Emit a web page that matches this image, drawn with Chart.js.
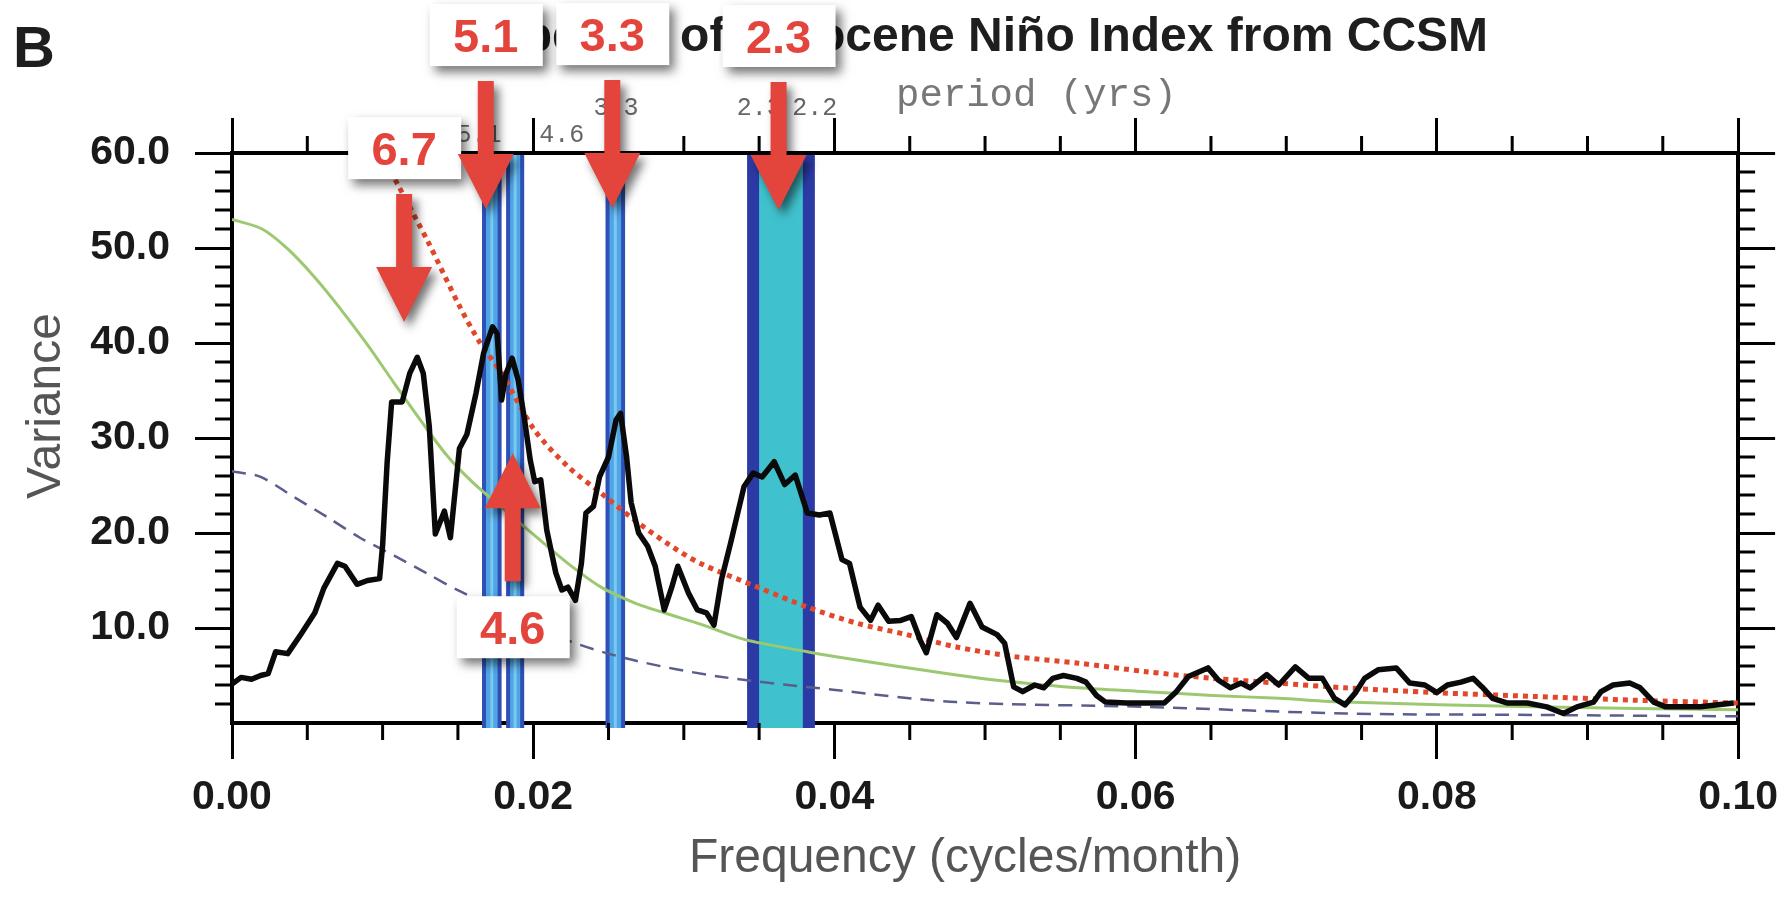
<!DOCTYPE html>
<html lang="en">
<head>
  <meta charset="UTF-8">
  <title>Spectra of Holocene Niño Index from CCSM</title>
  <style>
    body {
      margin: 0;
      background-color: #fff;
    }
    #wrap {
      width: 1792px;
      height: 897px;
    }
  </style>
</head>
<body>
  <div id="wrap"><canvas id="myChart" width="1792" height="897"></canvas></div>
  <script src="https://cdn.jsdelivr.net/npm/chart.js"></script>
  <script>
    // spectrum of the Nino index (black line), frequency in cycles/month
    var spectrumFreq = [0.0000, 0.0006, 0.0013, 0.0019, 0.0024, 0.0029, 0.0037, 0.0046, 0.0055, 0.0061,
      0.0070, 0.0075, 0.0083, 0.0090, 0.0098, 0.0100, 0.0103, 0.0106, 0.0113, 0.0118,
      0.0123, 0.0127, 0.0131, 0.0135, 0.0141, 0.0145, 0.0151, 0.0156, 0.0162, 0.0167,
      0.0173, 0.0176, 0.0179, 0.0182, 0.0186, 0.0190, 0.0194, 0.0198, 0.0201, 0.0205,
      0.0209, 0.0215, 0.0219, 0.0223, 0.0228, 0.0232, 0.0235, 0.0240, 0.0244, 0.0250,
      0.0255, 0.0258, 0.0262, 0.0265, 0.0270, 0.0276, 0.0281, 0.0287, 0.0292, 0.0296,
      0.0303, 0.0309, 0.0315, 0.0320, 0.0325, 0.0331, 0.0340, 0.0346, 0.0352, 0.0360,
      0.0367, 0.0374, 0.0382, 0.0390, 0.0397, 0.0405, 0.0410, 0.0417, 0.0424, 0.0429,
      0.0436, 0.0444, 0.0451, 0.0457, 0.0461, 0.0468, 0.0475, 0.0481, 0.0490, 0.0498,
      0.0508, 0.0513, 0.0519, 0.0525, 0.0533, 0.0539, 0.0545, 0.0552, 0.0561, 0.0567,
      0.0574, 0.0580, 0.0594, 0.0607, 0.0619, 0.0627, 0.0635, 0.0648, 0.0655, 0.0663,
      0.0670, 0.0676, 0.0687, 0.0695, 0.0706, 0.0715, 0.0724, 0.0732, 0.0739, 0.0746,
      0.0752, 0.0761, 0.0773, 0.0782, 0.0792, 0.0800, 0.0807, 0.0816, 0.0824, 0.0830,
      0.0837, 0.0847, 0.0860, 0.0873, 0.0884, 0.0893, 0.0904, 0.0909, 0.0917, 0.0928,
      0.0935, 0.0944, 0.0952, 0.0975, 0.0997];
    var spectrumVar = [4.1, 4.8, 4.6, 5.0, 5.2, 7.5, 7.3, 9.4, 11.6, 14.2,
      16.8, 16.5, 14.6, 15.0, 15.2, 18.7, 27.4, 33.8, 33.8, 36.8,
      38.5, 36.8, 31.2, 19.9, 22.3, 19.5, 28.9, 30.4, 34.7, 38.9,
      41.7, 41.0, 34.0, 36.8, 38.4, 36.1, 32.2, 27.7, 25.4, 25.6,
      20.3, 15.8, 14.0, 14.3, 12.9, 16.8, 22.1, 22.8, 25.9, 28.0,
      31.9, 32.6, 28.0, 23.2, 20.0, 18.6, 16.5, 11.9, 14.3, 16.5,
      13.7, 11.9, 11.6, 10.3, 15.1, 18.9, 24.9, 26.3, 25.9, 27.5,
      25.1, 26.1, 22.1, 21.9, 22.1, 17.2, 16.8, 12.2, 10.8, 12.4,
      10.7, 10.8, 11.2, 8.7, 7.4, 11.4, 10.5, 9.0, 12.6, 10.1,
      9.3, 8.4, 3.8, 3.3, 4.0, 3.7, 4.7, 5.0, 4.7, 4.3,
      2.9, 2.2, 2.1, 2.1, 2.1, 3.3, 4.9, 5.8, 4.5, 3.7,
      4.2, 3.7, 5.1, 4.0, 5.9, 4.7, 4.7, 2.6, 1.9, 3.2,
      4.7, 5.6, 5.8, 4.2, 4.0, 3.2, 4.0, 4.3, 4.7, 3.8,
      2.6, 2.1, 2.1, 1.7, 1.0, 1.7, 2.2, 3.3, 4.0, 4.2,
      3.7, 2.2, 1.7, 1.7, 2.1];

    // red noise fit (green)
    var redNoiseFreq = [0, 0.0020, 0.0037, 0.0055, 0.0072, 0.0090, 0.0108, 0.0125, 0.0143, 0.0160,
      0.0179, 0.0202, 0.0223, 0.0245, 0.0268, 0.0289, 0.0311, 0.0340, 0.0382, 0.0400,
      0.0481, 0.0508, 0.0562, 0.0607, 0.0651, 0.0695, 0.0739, 0.0864, 0.1000];
    var redNoiseVar = [53.0, 52.0, 49.9, 46.9, 43.6, 39.8, 35.7, 31.9, 28.1, 25.3,
      22.7, 19.6, 16.8, 14.3, 12.6, 11.5, 10.4, 8.8, 7.5, 7.0,
      5.05, 4.5, 3.7, 3.3, 2.9, 2.6, 2.2, 1.7, 1.4];

    // lower bound (dashed)
    var lowerFreq = [0, 0.0019, 0.0041, 0.0064, 0.0085, 0.0108, 0.0130, 0.0151, 0.0223, 0.0267,
      0.0323, 0.0399, 0.0481, 0.0607, 0.0739, 0.0864, 0.1000];
    var lowerVar = [26.5, 25.9, 23.8, 21.6, 19.5, 17.6, 15.7, 13.9, 8.7, 6.6,
      4.9, 3.5, 2.2, 1.7, 1.0, 0.85, 0.7];

    // upper confidence bound (red dotted)
    var upperFreq = [0.0099, 0.0110, 0.0130, 0.0151, 0.0164, 0.0179, 0.0201, 0.0223, 0.0245, 0.0267,
      0.0289, 0.0311, 0.0349, 0.0382, 0.0415, 0.0448, 0.0481, 0.0519, 0.0562, 0.0607,
      0.0651, 0.0695, 0.0739, 0.0798, 0.0864, 0.0931, 0.1000];
    var upperVar = [60.0, 56.7, 50.7, 43.9, 40.2, 36.8, 30.8, 27.0, 24.2, 21.4,
      18.9, 16.8, 14.3, 12.2, 10.5, 9.3, 8.0, 7.0, 6.3, 5.4,
      4.7, 4.2, 3.7, 3.2, 2.8, 2.4, 2.1];

    // significant frequency bands
    var bandStart = [0.0166, 0.0182, 0.0248, 0.0342];
    var bandEnd = [0.0179, 0.0194, 0.0261, 0.0387];
    var bandKind = ['narrow', 'narrow', 'narrow', 'wide'];

    // period labels along the top axis (yrs)
    var periodLabels = ['6.7', '5.1', '4.6', '3.3', '2.3', '2.2'];
    var periodFreq = [0.0124, 0.0164, 0.0219, 0.0255, 0.0350, 0.0387];
    var periodRow = [1, 1, 1, 0, 0, 0];

    // red arrow call-outs (arrow tip in data units)
    var noteLabels = ['6.7', '5.1', '3.3', '2.3', '4.6'];
    var noteFreq = [0.01143, 0.01685, 0.02525, 0.03629, 0.01864];
    var noteVar = [42.2, 54.1, 54.2, 54.0, 28.4];
    var noteDir = ['down', 'down', 'down', 'down', 'up'];

    var FONT = '"Liberation Sans", Arial, Helvetica, sans-serif';
    var MONO = '"Liberation Mono", "Courier New", monospace';

    function pts(xs, ys) {
      return xs.map(function(x, i) { return { x: x, y: ys[i] }; });
    }

    var bandsPlugin = {
      id: 'bands',
      beforeDatasetsDraw: function(chart) {
        var ctx = chart.ctx, a = chart.chartArea, x = chart.scales.x;
        ctx.save();
        for (var i = 0; i < bandStart.length; i++) {
          var x0 = x.getPixelForValue(bandStart[i]);
          var x1 = x.getPixelForValue(bandEnd[i]);
          var wide = bandKind[i] === 'wide';
          var edge = wide ? 12 : 4;
          var top = a.top + 2, h = a.bottom + 5 - top;
          ctx.fillStyle = wide ? '#2c3aa6' : '#2f50b6';
          ctx.fillRect(x0, top, x1 - x0, h);
          ctx.fillStyle = wide ? '#3fc2cd' : '#4ea6e5';
          ctx.fillRect(x0 + edge, top, x1 - x0 - 2 * edge, h);
          if (!wide) {
            ctx.fillStyle = '#7cc8f2';
            ctx.fillRect((x0 + x1) / 2 - 1.5, top, 3, h);
          }
        }
        ctx.restore();
      }
    };

    function drawNote(ctx, tx, ty, dir, text) {
      var s = dir === 'down' ? -1 : 1;
      var boxTop = dir === 'down' ? ty - 143 - 62 : ty + 143;
      ctx.save();
      ctx.shadowColor = 'rgba(0,0,0,0.55)';
      ctx.shadowBlur = 10;
      ctx.shadowOffsetX = 5;
      ctx.shadowOffsetY = 6;
      ctx.fillStyle = '#fff';
      ctx.fillRect(tx - 56, boxTop, 113, 62);
      ctx.fillStyle = '#e3443b';
      ctx.beginPath();
      ctx.moveTo(tx, ty);
      ctx.lineTo(tx + 28, ty + s * 55);
      ctx.lineTo(tx + 8, ty + s * 55);
      ctx.lineTo(tx + 8, ty + s * 128);
      ctx.lineTo(tx - 8, ty + s * 128);
      ctx.lineTo(tx - 8, ty + s * 55);
      ctx.lineTo(tx - 28, ty + s * 55);
      ctx.closePath();
      ctx.fill();
      ctx.shadowColor = 'rgba(0,0,0,0)';
      ctx.font = 'bold 47px ' + FONT;
      ctx.textAlign = 'center';
      ctx.textBaseline = 'alphabetic';
      ctx.fillText(text, tx, boxTop + 48);
      ctx.restore();
    }

    var decorPlugin = {
      id: 'decor',
      afterDraw: function(chart) {
        var ctx = chart.ctx, a = chart.chartArea;
        var x = chart.scales.x, y = chart.scales.y;
        var k;
        ctx.save();

        // minor ticks on all four sides
        ctx.strokeStyle = '#000';
        ctx.lineWidth = 3;
        ctx.beginPath();
        for (k = 1; k < 20; k++) {
          if (k % 4 === 0) continue;
          var px = x.getPixelForValue(k * 0.005);
          ctx.moveTo(px, a.bottom); ctx.lineTo(px, a.bottom + 17);
          ctx.moveTo(px, a.top); ctx.lineTo(px, a.top - 17);
        }
        for (k = 1; k < 30; k++) {
          if (k % 5 === 0) continue;
          var py = y.getPixelForValue(k * 2);
          ctx.moveTo(a.left, py); ctx.lineTo(a.left - 17, py);
          ctx.moveTo(a.right, py); ctx.lineTo(a.right + 17, py);
        }
        ctx.stroke();

        // panel letter and title
        ctx.fillStyle = '#1e1e1e';
        ctx.font = 'bold 58px ' + FONT;
        ctx.textAlign = 'left';
        ctx.fillText('B', 13, 67);
        ctx.font = 'bold 48px ' + FONT;
        ctx.textAlign = 'right';
        ctx.fillText('Spectra of Holocene Niño Index from CCSM', a.right - 250, 51);

        // period axis
        ctx.fillStyle = '#777';
        ctx.font = '39px ' + MONO;
        ctx.textAlign = 'left';
        ctx.fillText('period (yrs)', a.left + 664, 106);
        ctx.fillStyle = '#666';
        ctx.font = '25px ' + MONO;
        ctx.textAlign = 'center';
        for (k = 0; k < periodLabels.length; k++) {
          ctx.fillText(periodLabels[k], x.getPixelForValue(periodFreq[k]), periodRow[k] ? 142 : 115);
        }

        // axis titles
        ctx.fillStyle = '#555';
        ctx.font = '48px ' + FONT;
        ctx.textAlign = 'center';
        ctx.fillText('Frequency (cycles/month)', (a.left + a.right) / 2 - 20, 872);
        ctx.save();
        ctx.translate(60, (a.top + a.bottom) / 2 - 32);
        ctx.rotate(-Math.PI / 2);
        ctx.fillText('Variance', 0, 0);
        ctx.restore();

        // call-outs
        for (k = 0; k < noteLabels.length; k++) {
          drawNote(ctx, x.getPixelForValue(noteFreq[k]), y.getPixelForValue(noteVar[k]), noteDir[k], noteLabels[k]);
        }
        ctx.restore();
      }
    };

    var hideZero = function(c) {
      return c.tick && c.tick.value === 0 ? 'rgba(0,0,0,0)' : '#000';
    };

    var ctx = document.getElementById('myChart').getContext('2d');
    var myChart = new Chart(ctx, {
      type: 'line',
      data: {
        datasets: [{
          label: 'Spectrum',
          data: pts(spectrumFreq, spectrumVar),
          borderColor: '#0a0a0a',
          borderWidth: 5.5,
          borderJoinStyle: 'round',
          pointRadius: 0,
          tension: 0
        }, {
          label: 'Upper bound',
          data: pts(upperFreq, upperVar),
          borderColor: '#e2472b',
          borderWidth: 5,
          borderDash: [5, 5],
          pointRadius: 0,
          tension: 0.3
        }, {
          label: 'Red noise',
          data: pts(redNoiseFreq, redNoiseVar),
          borderColor: '#9cc870',
          borderWidth: 3,
          pointRadius: 0,
          tension: 0.3
        }, {
          label: 'Lower bound',
          data: pts(lowerFreq, lowerVar),
          borderColor: '#5b5e8c',
          borderWidth: 2.5,
          borderDash: [14, 9],
          pointRadius: 0,
          tension: 0.3
        }]
      },
      options: {
        responsive: false,
        animation: false,
        events: [],
        layout: { padding: 0 },
        plugins: {
          legend: { display: false },
          tooltip: { enabled: false }
        },
        scales: {
          x: {
            type: 'linear',
            position: 'bottom',
            min: 0,
            max: 0.1,
            afterFit: function(s) { s.height = 174; },
            border: { color: '#000', width: 4 },
            grid: { drawOnChartArea: false, color: '#000', lineWidth: 3, tickLength: 36 },
            ticks: {
              stepSize: 0.02,
              padding: 14,
              color: '#1a1a1a',
              font: { family: FONT, size: 41, weight: 'bold' },
              callback: function(v) { return v.toFixed(2); }
            }
          },
          x2: {
            type: 'linear',
            position: 'top',
            min: 0,
            max: 0.1,
            afterFit: function(s) { s.height = 153; },
            border: { color: '#000', width: 4 },
            grid: { drawOnChartArea: false, color: '#000', lineWidth: 3, tickLength: 35 },
            ticks: { stepSize: 0.02, display: false }
          },
          y: {
            type: 'linear',
            position: 'left',
            min: 0,
            max: 60,
            afterFit: function(s) { s.width = 232; },
            border: { color: '#000', width: 4 },
            grid: { drawOnChartArea: false, color: '#000', lineWidth: 3, tickLength: 37, tickColor: hideZero },
            ticks: {
              stepSize: 10,
              padding: 25,
              color: '#1a1a1a',
              font: { family: FONT, size: 41, weight: 'bold' },
              callback: function(v) { return v === 0 ? '' : v.toFixed(1); }
            }
          },
          y2: {
            type: 'linear',
            position: 'right',
            min: 0,
            max: 60,
            afterFit: function(s) { s.width = 47; },
            border: { color: '#000', width: 4 },
            grid: { drawOnChartArea: false, color: '#000', lineWidth: 3, tickLength: 37, tickColor: hideZero },
            ticks: { stepSize: 10, display: false }
          }
        }
      },
      plugins: [bandsPlugin, decorPlugin]
    });
  </script>
</body>
</html>
